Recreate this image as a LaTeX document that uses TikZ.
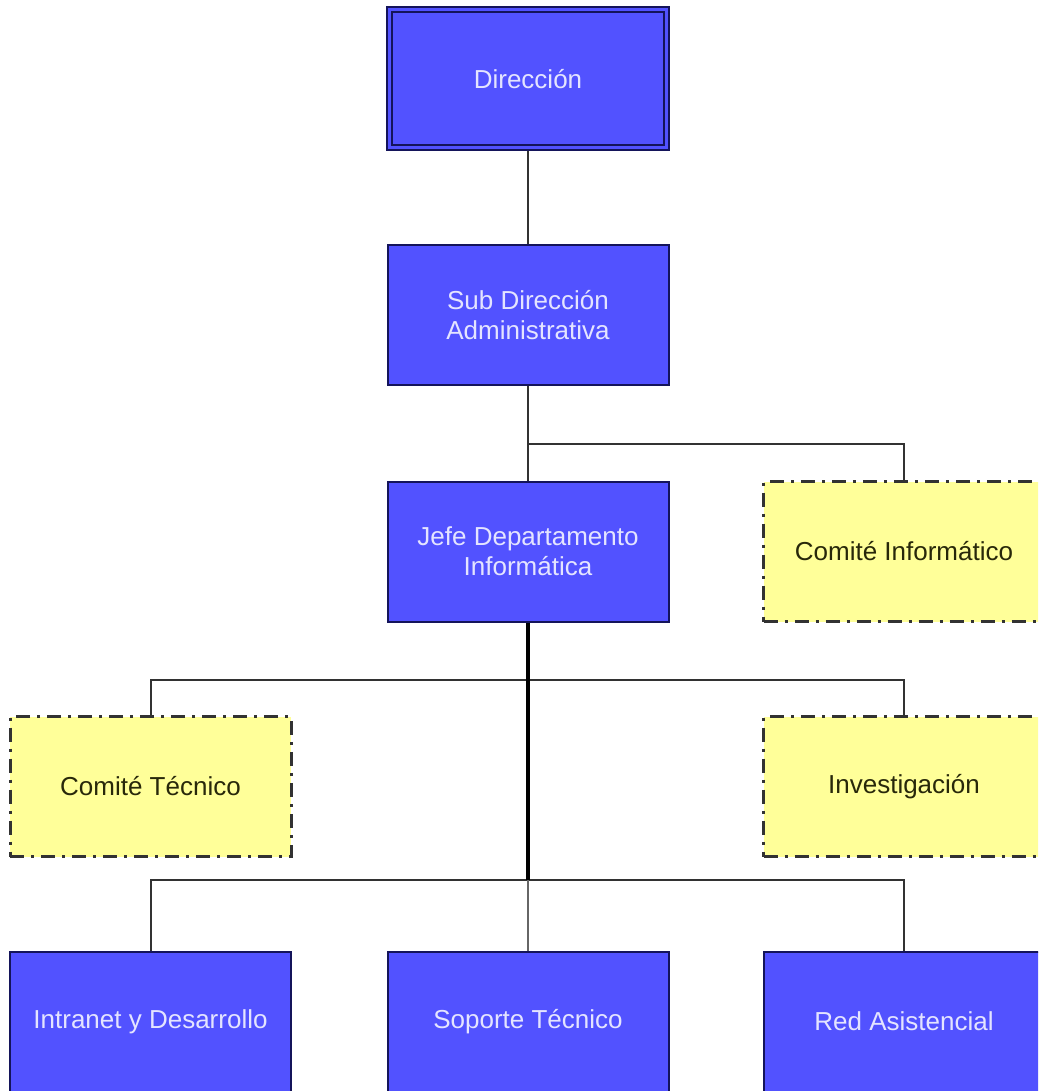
\documentclass[tikz,border=0pt]{standalone}
\usepackage{fontspec}
\setmainfont{Liberation Sans}
\definecolor{boxblue}{RGB}{82,82,255}
\definecolor{boxedge}{RGB}{20,20,90}
\definecolor{boxtext}{RGB}{228,228,255}
\definecolor{commfill}{RGB}{255,255,153}
\definecolor{commtext}{RGB}{40,40,10}
\definecolor{linegray}{RGB}{50,50,50}
\tikzset{
  unitbox/.style={draw=boxedge, line width=2pt, fill=boxblue, text=boxtext,
    minimum width=281pt, minimum height=140pt, inner sep=0pt, align=center,
    font=\fontsize{26}{30}\selectfont},
  commbox/.style={draw=linegray, line width=3pt, fill=commfill, text=commtext,
    dash pattern=on 14pt off 7pt on 3pt off 7pt,
    minimum width=281pt, minimum height=140pt, inner sep=0pt, align=center,
    font=\fontsize{26}{30}\selectfont},
  link/.style={draw=linegray, line width=2pt},
  trunk/.style={draw=black, line width=3.2pt}
}
\begin{document}
\begin{tikzpicture}[x=1pt,y=-1pt]
\clip (0,0) rectangle (1038,1091);
\fill[white] (0,0) rectangle (1038,1091);
% nodes
\node[unitbox, minimum width=282pt, minimum height=143pt] (dir) at (528,79) {Dirección};
\draw[draw=boxedge, line width=2pt] ([shift={(6pt,-6pt)}]dir.north west) rectangle ([shift={(-6pt,6pt)}]dir.south east);
\node[unitbox] (sub) at (528,315) {Sub Dirección\\Administrativa};
\node[unitbox] (jefe) at (528,551.5) {Jefe Departamento\\Informática};
\node[commbox] (cinf) at (904,551.5) {Comité Informático};
\node[commbox] (ctec) at (150.5,786.5) {Comité Técnico};
\node[commbox] (inv) at (904,786.5) {Investigación};
\node[unitbox] (intr) at (150.5,1021.5) {Intranet y Desarrollo};
\node[unitbox] (sop) at (528,1021.5) {Soporte Técnico};
\node[unitbox] (red) at (904,1021.5) {Red Asistencial};
% branch points
\coordinate (b1) at (528,444);
\coordinate (b2) at (528,680);
\coordinate (b3) at (528,880);
% connectors
\draw[link] (dir.south) -- (sub.north);
\draw[link] (sub.south) -- (jefe.north);
\draw[link] (b1) -| (cinf.north);
\draw[link] (ctec.north) |- (b2) -| (inv.north);
\draw[link] (intr.north) |- (b3) -| (red.north);
\draw[link, draw=gray!80!black] (b3) -- (sop.north);
\draw[trunk] (jefe.south) -- (b3);
\end{tikzpicture}
\end{document}
